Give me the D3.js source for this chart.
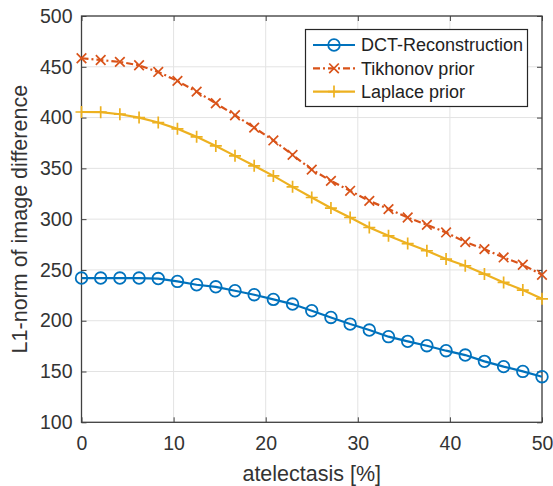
<!DOCTYPE html>
<html><head><meta charset="utf-8">
<script src="https://cdn.jsdelivr.net/npm/d3@7"></script>
<style>body{margin:0;background:#fff}svg{display:block}text{font-family:"Liberation Sans",Arial,sans-serif}</style>
</head><body><svg id="c" width="553" height="486"></svg>
<script>
const xValues = d3.range(25).map(i => i * 50 / 24);
const dct = [242,242,242,242,241.5,238.7,235.4,233.4,229.5,225.6,221,216.4,209.8,203.2,196.7,190.8,184.3,179.7,175.4,170.5,166.2,160,154.8,150.1,144.9];
const tikhonov = [458.4,456.7,454.8,451.5,444.9,436.1,425.5,414.1,402.3,390.1,377.5,363.3,348.8,337.7,327.9,318,309.9,301.6,294.4,286.9,277.5,270.5,262.3,255.1,245.2];
const laplace = [405.5,405.3,403.3,400,395.1,388.9,381,372.1,362.3,352.5,342.6,331.8,321.3,310.9,301.6,291.8,283.6,276,268.9,260.7,254.1,245.9,237.7,230.2,221.6];
const xTicks = [0,10,20,30,40,50];
const yTicks = [100,150,200,250,300,350,400,450,500];
const seriesNames = ["DCT-Reconstruction","Tikhonov prior","Laplace prior"];
const seriesColors = ["#0072BD","#D95319","#EDB120"];

const svg = d3.select("#c");
const L = 81.5, R = 542, T = 16, B = 422.3;
const x = d3.scaleLinear().domain([0,50]).range([L,R]);
const y = d3.scaleLinear().domain([100,500]).range([B,T]);
const axisCol = "#404040", textCol = "#333";

// grid
const g = svg.append("g");
g.selectAll(".gx").data(xTicks).join("line").attr("x1",d=>x(d)).attr("x2",d=>x(d)).attr("y1",T).attr("y2",B).attr("stroke","#e3e3e3").attr("stroke-width",1);
g.selectAll(".gy").data(yTicks).join("line").attr("y1",d=>y(d)).attr("y2",d=>y(d)).attr("x1",L).attr("x2",R).attr("stroke","#e3e3e3").attr("stroke-width",1);

// axes via d3 axis
const fs = "19.5px";
const xa = svg.append("g").attr("transform",`translate(0,${B})`).call(d3.axisBottom(x).tickValues(xTicks).tickSizeInner(-5).tickSizeOuter(0).tickPadding(14));
const ya = svg.append("g").attr("transform",`translate(${L},0)`).call(d3.axisLeft(y).tickValues(yTicks).tickSizeInner(-5).tickSizeOuter(0).tickPadding(9));
const xt = svg.append("g").attr("transform",`translate(0,${T})`).call(d3.axisTop(x).tickValues(xTicks).tickSizeInner(-5).tickSizeOuter(0).tickFormat(""));
const yr = svg.append("g").attr("transform",`translate(${R},0)`).call(d3.axisRight(y).tickValues(yTicks).tickSizeInner(-5).tickSizeOuter(0).tickFormat(""));
[xa,ya,xt,yr].forEach(a=>{a.select(".domain").remove();a.selectAll("line").attr("stroke",axisCol);a.selectAll("text").attr("fill",textCol).style("font-size",fs).style("font-family","Liberation Sans, Arial, sans-serif");});
xa.selectAll("text").attr("dy","0.71em");
svg.append("rect").attr("x",L).attr("y",T).attr("width",R-L).attr("height",B-T).attr("fill","none").attr("stroke",axisCol).attr("stroke-width",1.3);

// labels
svg.append("text").attr("x",(L+R)/2).attr("y",481).attr("text-anchor","middle").attr("fill",textCol).style("font-size","21.5px").text("atelectasis [%]");
svg.append("text").attr("transform",`translate(27,${(T+B)/2}) rotate(-90)`).attr("text-anchor","middle").attr("fill",textCol).style("font-size","21.5px").text("L1-norm of image difference");

// series
const data = [dct,tikhonov,laplace];
const line = d3.line().x((d,i)=>x(xValues[i])).y(d=>y(d));
const dashes = [null,"7,3,2,3",null];
function marker(sel,k,cx,cy,col){
  if(k===0) sel.append("circle").attr("cx",cx).attr("cy",cy).attr("r",5.8).attr("fill","none").attr("stroke",col).attr("stroke-width",1.8);
  else if(k===1){const s=4.8;sel.append("path").attr("d",`M${cx-s},${cy-s}L${cx+s},${cy+s}M${cx-s},${cy+s}L${cx+s},${cy-s}`).attr("stroke",col).attr("stroke-width",1.7);}
  else {const s=6;sel.append("path").attr("d",`M${cx-s},${cy}L${cx+s},${cy}M${cx},${cy-s}L${cx},${cy+s}`).attr("stroke",col).attr("stroke-width",1.7);}
}
const clip = svg.append("g");
data.forEach((arr,k)=>{
  const gs = clip.append("g");
  gs.append("path").datum(arr).attr("d",line).attr("fill","none").attr("stroke",seriesColors[k]).attr("stroke-width",2.2).attr("stroke-dasharray",dashes[k]);
  arr.forEach((v,i)=>marker(gs,k,x(xValues[i]),y(v),seriesColors[k]));
});

// legend
const lg = svg.append("g");
lg.append("rect").attr("x",305.5).attr("y",29.5).attr("width",222).attr("height",77).attr("fill","#fff").attr("stroke","#262626").attr("stroke-width",1.2);
seriesNames.forEach((n,k)=>{
  const cy = 45 + k*23.3;
  lg.append("line").attr("x1",313).attr("x2",355).attr("y1",cy).attr("y2",cy).attr("stroke",seriesColors[k]).attr("stroke-width",2.2).attr("stroke-dasharray",dashes[k]);
  marker(lg,k,334,cy,seriesColors[k]);
  lg.append("text").attr("x",361).attr("y",cy).attr("dy","0.35em").attr("fill","#222").style("font-size","18px").text(n);
});
</script></body></html>
